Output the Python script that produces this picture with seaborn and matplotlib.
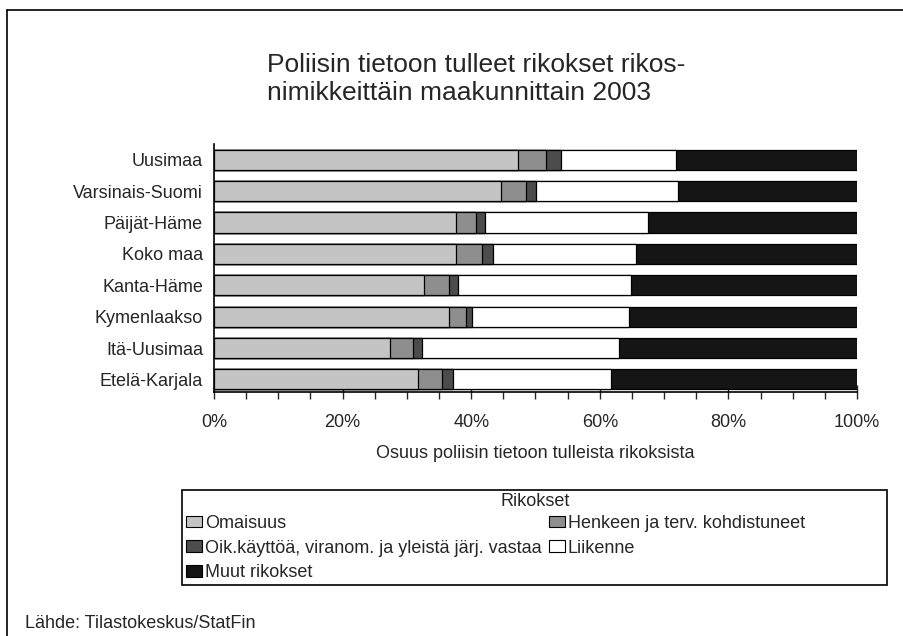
import numpy as np
import pandas as pd
import seaborn as sns
import matplotlib.pyplot as plt
from matplotlib.patches import Patch, Rectangle
from matplotlib.lines import Line2D
from matplotlib.ticker import MultipleLocator, PercentFormatter

# Regions and shares (%) of each crime group
regions = ['Uusimaa', 'Varsinais-Suomi', 'Päijät-Häme', 'Koko maa',
           'Kanta-Häme', 'Kymenlaakso', 'Itä-Uusimaa', 'Etelä-Karjala']
groups = ['Omaisuus', 'Henkeen ja terv. kohdistuneet',
          'Oik.käyttöä, viranom. ja yleistä järj. vastaa', 'Liikenne',
          'Muut rikokset']
omaisuus = [47.3, 44.7, 37.6, 37.6, 32.6, 36.5, 27.4, 31.8]
henkeen = [4.4, 3.8, 3.1, 4.1, 4.0, 2.7, 3.5, 3.7]
oik = [2.2, 1.6, 1.4, 1.7, 1.3, 1.0, 1.5, 1.7]
liikenne = [17.9, 22.1, 25.4, 22.2, 27.0, 24.3, 30.6, 24.5]
muut = [28.2, 27.8, 32.5, 34.4, 35.1, 35.5, 37.0, 38.3]
colors = ['#c4c4c4', '#8e8e8e', '#4c4c4c', '#ffffff', '#151515']

df = pd.DataFrame({'Maakunta': regions, groups[0]: omaisuus, groups[1]: henkeen,
                   groups[2]: oik, groups[3]: liikenne, groups[4]: muut})
cum = df[groups].cumsum(axis=1)
cum['Maakunta'] = df['Maakunta']

sns.set_theme(style='white')
plt.rcParams['font.family'] = ['Liberation Sans', 'DejaVu Sans']

fig = plt.figure(figsize=(9.04, 6.36), dpi=100)
ax = fig.add_axes([214 / 904, 1 - 392 / 636, 643 / 904, 248 / 636])

# stacked bars: draw cumulative totals from the longest to the shortest
for g, c in reversed(list(zip(groups, colors))):
    sns.barplot(data=cum, x=g, y='Maakunta', orient='h', color=c,
                width=0.64, edgecolor='black', linewidth=0.9,
                saturation=1, ax=ax)

ax.set_xlim(0, 100)
ax.set_ylim(7.4, -0.5)
ax.xaxis.set_major_locator(MultipleLocator(20))
ax.xaxis.set_minor_locator(MultipleLocator(5))
ax.xaxis.set_major_formatter(PercentFormatter(decimals=0))
ax.tick_params(axis='x', which='major', direction='inout', length=10,
               width=1, labelsize=13, pad=11, bottom=True)
ax.tick_params(axis='x', which='minor', direction='out', length=5,
               width=1, bottom=True)
ax.tick_params(axis='y', length=0, labelsize=13, pad=8)
for s in ['top', 'right']:
    ax.spines[s].set_visible(False)
for s in ['left', 'bottom']:
    ax.spines[s].set_color('black')
    ax.spines[s].set_linewidth(1.2)
ax.set_ylabel('')
ax.set_xlabel('Osuus poliisin tietoon tulleista rikoksista', fontsize=13,
              labelpad=10)

fig.text(267 / 904, 1 - 53 / 636,
         'Poliisin tietoon tulleet rikokset rikos-\nnimikkeittäin maakunnittain 2003',
         ha='left', va='top', fontsize=19, linespacing=1.22)

# legend: box and title drawn separately, entries packed in two columns
fig.add_artist(Rectangle((182 / 904, 1 - 585 / 636), 705 / 904, 95 / 636,
                         transform=fig.transFigure, fill=False,
                         edgecolor='black', linewidth=1.2))
fig.text(535 / 904, 1 - 502 / 636, 'Rikokset', ha='center', va='center',
         fontsize=13)
handles = [Patch(facecolor=c, edgecolor='black', linewidth=0.8, label=g)
           for g, c in zip(groups, colors)]
order = [0, 2, 4, 1, 3]
fig.legend([handles[i] for i in order], [groups[i] for i in order],
           ncol=2, loc='upper left',
           bbox_to_anchor=(186 / 904, 1 - 515 / 636),
           fontsize=13, handlelength=0.9, handleheight=0.6,
           handletextpad=0.15, borderpad=0, labelspacing=0.42,
           columnspacing=0.4, borderaxespad=0, frameon=False)

fig.text(25 / 904, 1 - 624 / 636, 'Lähde: Tilastokeskus/StatFin',
         ha='left', va='center', fontsize=13)

# outer frame (only top and left edges fall inside the picture)
fig.add_artist(Line2D([7 / 904, 1], [1 - 10 / 636] * 2,
                      transform=fig.transFigure, color='black', linewidth=1.2))
fig.add_artist(Line2D([7 / 904] * 2, [0, 1 - 10 / 636],
                      transform=fig.transFigure, color='black', linewidth=1.2))

fig.savefig('out.png', dpi=100)
